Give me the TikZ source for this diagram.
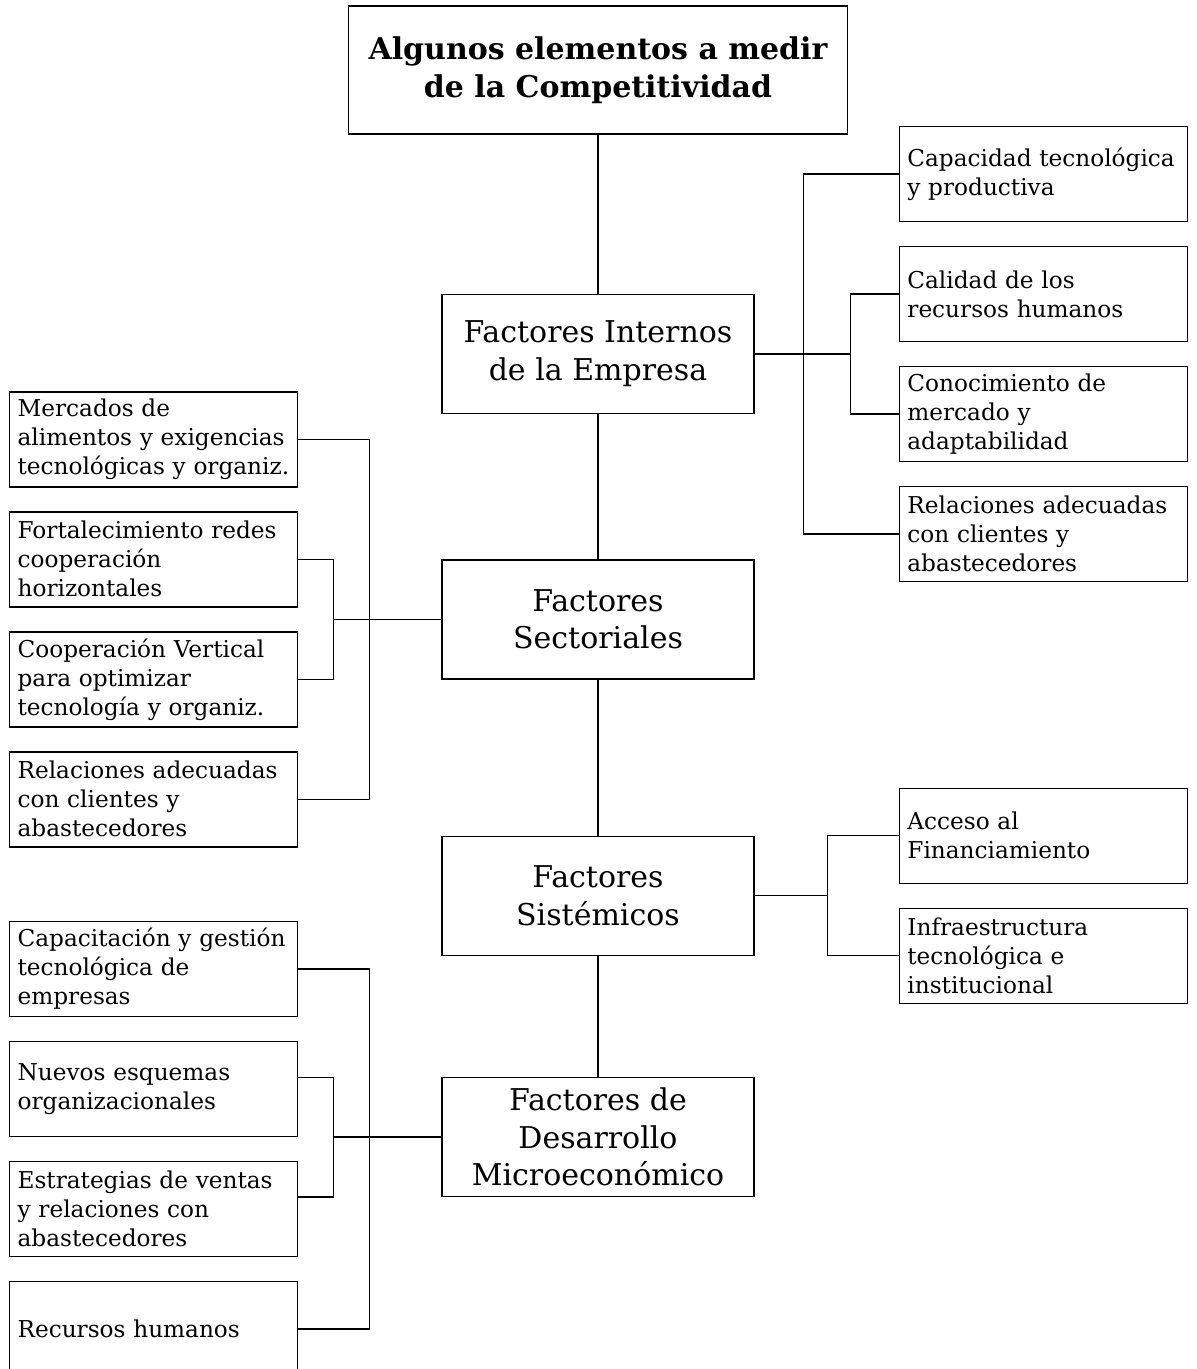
\documentclass[tikz,border=0pt]{standalone}
\usepackage{fontspec}
\setmainfont{DejaVu Serif}
\usetikzlibrary{positioning}

\begin{document}
\begin{tikzpicture}[
    every node/.style={font={\fontsize{11.6}{14.5}\selectfont\hyphenpenalty10000\relax}},
    header/.style={rectangle, draw, line width=0.7pt, align=center, minimum width=249.5pt, minimum height=64pt, font=\bfseries\fontsize{15}{19}\selectfont},
    factor/.style={rectangle, draw, line width=0.7pt, align=center, minimum width=156pt, minimum height=59.5pt, inner ysep=2pt, font=\fontsize{15}{18.75}\selectfont},
    leaf/.style={rectangle, draw, line width=0.7pt, align=left, text width=136pt, inner xsep=4pt, inner ysep=2pt, minimum height=47.5pt},
    link/.style={line width=0.7pt}
]
    \useasboundingbox (0,0) rectangle (598pt,-684.5pt);

    % main column
    \node[header] (title) at (299pt,-35pt) {Algunos elementos a medir\\de la Competitividad};
    \node[factor, below=79.5pt of title] (intern) {Factores Internos\\de la Empresa};
    \node[factor, below=72.5pt of intern] (sect) {Factores\\Sectoriales};
    \node[factor, below=78pt of sect] (syst) {Factores\\Sistémicos};
    \node[factor, below=60.5pt of syst] (desa) {Factores de\\Desarrollo\\Microeconómico};

    % factores internos
    \node[leaf, right=72pt of intern, yshift=90pt]  (r1) {Capacidad tecnológica\\y productiva};
    \node[leaf, right=72pt of intern, yshift=30pt]  (r2) {Calidad de los\\recursos humanos};
    \node[leaf, right=72pt of intern, yshift=-30pt] (r3) {Conocimiento de\\mercado y\\adaptabilidad};
    \node[leaf, right=72pt of intern, yshift=-90pt] (r4) {Relaciones adecuadas\\con clientes y\\abastecedores};

    % factores sectoriales
    \node[leaf, left=71.5pt of sect, yshift=90pt]  (l1) {Mercados de\\alimentos y exigencias\\tecnológicas y organiz.};
    \node[leaf, left=71.5pt of sect, yshift=30pt]  (l2) {Fortalecimiento redes\\cooperación\\horizontales};
    \node[leaf, left=71.5pt of sect, yshift=-30pt] (l3) {Cooperación Vertical\\para optimizar\\tecnología y organiz.};
    \node[leaf, left=71.5pt of sect, yshift=-90pt] (l4) {Relaciones adecuadas\\con clientes y\\abastecedores};

    % factores sistemicos
    \node[leaf, right=72pt of syst, yshift=30pt]  (s1) {Acceso al\\Financiamiento};
    \node[leaf, right=72pt of syst, yshift=-30pt] (s2) {Infraestructura\\tecnológica e\\institucional};

    % desarrollo microeconomico
    \node[leaf, left=71.5pt of desa, yshift=84pt]  (d1) {Capacitación y gestión\\tecnológica de\\empresas};
    \node[leaf, left=71.5pt of desa, yshift=24pt]  (d2) {Nuevos esquemas\\organizacionales};
    \node[leaf, left=71.5pt of desa, yshift=-36pt] (d3) {Estrategias de ventas\\y relaciones con\\abastecedores};
    \node[leaf, left=71.5pt of desa, yshift=-96pt] (d4) {Recursos humanos};

    % connectors
    \draw[link] (title) -- (intern);
    \draw[link] (intern) -- (sect);
    \draw[link] (sect) -- (syst);
    \draw[link] (syst) -- (desa);

    \draw[link] (r1.west) -- ++(-47.5pt,0) |- (r4.west);
    \draw[link] (r2.west) -- ++(-24pt,0) |- (r3.west);
    \draw[link] (intern.east) -- ([xshift=-24pt]r2.west |- intern.east);

    \draw[link] (l1.east) -- ++(35.5pt,0) |- (l4.east);
    \draw[link] (l2.east) -- ++(17.5pt,0) |- (l3.east);
    \draw[link] (sect.west) -- ([xshift=17.5pt]l2.east |- sect.west);

    \draw[link] (s1.west) -- ++(-35.5pt,0) |- (s2.west);
    \draw[link] (syst.east) -- ([xshift=-35.5pt]s1.west |- syst.east);

    \draw[link] (d1.east) -- ++(35.5pt,0) |- (d4.east);
    \draw[link] ([yshift=5.75pt]d2.east) -- ++(17.5pt,0) |- ([yshift=6pt]d3.east);
    \draw[link] (desa.west) -- ([xshift=17.5pt]d2.east |- desa.west);
\end{tikzpicture}
\end{document}
